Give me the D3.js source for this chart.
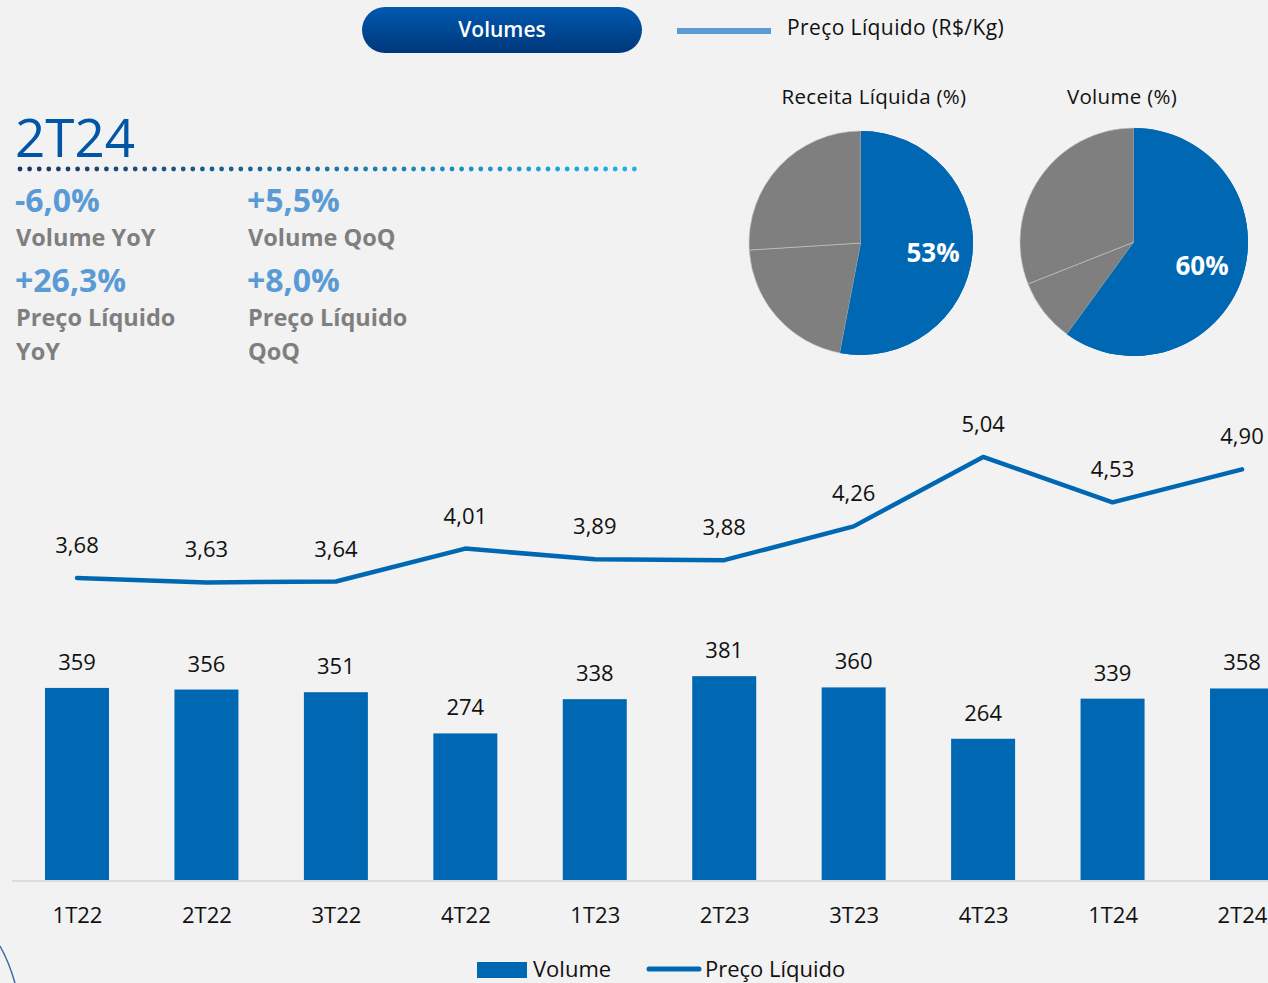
<!DOCTYPE html>
<html>
<head>
<meta charset="utf-8">
<script src="https://cdn.jsdelivr.net/npm/d3@7"></script>
<style>
  html, body { margin: 0; padding: 0; background: #f2f2f2; }
  svg { display: block; font-family: "Open Sans", "Noto Sans", sans-serif; }
</style>
</head>
<body>
<div id="chart"></div>
<script>
// quarterly data
const quarters = ['1T22', '2T22', '3T22', '4T22', '1T23', '2T23', '3T23', '4T23', '1T24', '2T24'];
const volumes = [359, 356, 351, 274, 338, 381, 360, 264, 339, 358];
const netPrices = [3.68, 3.63, 3.64, 4.01, 3.89, 3.88, 4.26, 5.04, 4.53, 4.90];

// pie shares (first slice = highlighted)
const revenueShare = [53, 21, 26];
const volumeShare = [60, 9, 31];

// 2T24 highlights
const highlights = [
  { value: '-6,0%', label: ['Volume YoY'] },
  { value: '+5,5%', label: ['Volume QoQ'] },
  { value: '+26,3%', label: ['Preço Líquido', 'YoY'] },
  { value: '+8,0%', label: ['Preço Líquido', 'QoQ'] }
];

const W = 1268, H = 983;
const BLUE = '#0068b3';
const GREY = '#7f7f7f';

const svg = d3.select('#chart').append('svg')
  .attr('width', W)
  .attr('height', H);

svg.append('rect').attr('width', W).attr('height', H).attr('fill', '#f2f2f2');

const defs = svg.append('defs');
const pillGrad = defs.append('linearGradient')
  .attr('id', 'pill-grad').attr('x1', 0).attr('y1', 0).attr('x2', 0).attr('y2', 1);
pillGrad.append('stop').attr('offset', '0%').attr('stop-color', '#0058b0');
pillGrad.append('stop').attr('offset', '100%').attr('stop-color', '#00387a');

/* ---------- header ---------- */
svg.append('rect')
  .attr('x', 362).attr('y', 7).attr('width', 280).attr('height', 46)
  .attr('rx', 23).attr('fill', 'url(#pill-grad)');
svg.append('text')
  .attr('x', 502).attr('y', 37)
  .attr('text-anchor', 'middle')
  .attr('fill', '#fff').attr('font-size', '21px').attr('font-weight', 600)
  .text('Volumes');

svg.append('line')
  .attr('x1', 677).attr('x2', 771).attr('y1', 31).attr('y2', 31)
  .attr('stroke', '#5b9bd5').attr('stroke-width', 6);
svg.append('text')
  .attr('x', 787).attr('y', 35)
  .attr('fill', '#111').attr('font-size', '21px').attr('letter-spacing', '0.4px')
  .text('Preço Líquido (R$/Kg)');

/* ---------- 2T24 block ---------- */
svg.append('text')
  .attr('x', 15).attr('y', 157)
  .attr('fill', '#0055a5').attr('font-size', '53px').attr('font-weight', 500)
  .text('2T24');

const dotX = d3.range(20, 636, 9.6);
const dotColor = d3.scaleLinear().domain([20, 635]).range(['#1c3562', '#1ab4e8']);
svg.append('g').selectAll('circle')
  .data(dotX)
  .enter()
  .append('circle')
  .attr('cx', d => d).attr('cy', 169).attr('r', 2.4)
  .attr('fill', d => dotColor(d));

const hlG = svg.append('g');
highlights.forEach((h, i) => {
  const x = i % 2 === 0 ? 15 : 247;
  const y = i < 2 ? 212 : 292;
  hlG.append('text')
    .attr('x', x).attr('y', y)
    .attr('fill', '#5b9bd5').attr('font-size', '32px').attr('font-weight', 700)
    .text(h.value);
  h.label.forEach((l, j) => {
    hlG.append('text')
      .attr('x', x + 1).attr('y', y + 34 + j * 34)
      .attr('fill', GREY).attr('font-size', '23.5px').attr('font-weight', 700)
      .text(l);
  });
});

/* ---------- pies ---------- */
function drawPie(cx, cy, r, values, title, titleX, labelPos) {
  const g = svg.append('g').attr('transform', `translate(${cx}, ${cy})`);
  const pie = d3.pie().sort(null).value(d => d);
  const arc = d3.arc().innerRadius(0).outerRadius(r);
  const arcs = pie(values);

  g.selectAll('path')
    .data(arcs)
    .enter()
    .append('path')
    .attr('d', arc)
    .attr('fill', (d, i) => (i === 0 ? BLUE : GREY))
    .attr('stroke', (d, i) => (i === 0 ? 'none' : '#c8c8c8'))
    .attr('stroke-width', 0.6);
  // redraw blue on top so its edges stay clean
  g.append('path').attr('d', arc(arcs[0])).attr('fill', BLUE);

  g.append('text')
    .attr('x', labelPos[0]).attr('y', labelPos[1])
    .attr('text-anchor', 'middle')
    .attr('fill', '#fff').attr('font-size', '26px').attr('font-weight', 700)
    .text(values[0] + '%');

  svg.append('text')
    .attr('x', titleX).attr('y', 104)
    .attr('text-anchor', 'middle')
    .attr('fill', '#111').attr('font-size', '20.5px').attr('letter-spacing', '0.3px')
    .text(title);
}

drawPie(861, 243, 112, revenueShare, 'Receita Líquida (%)', 874, [72, 19]);
drawPie(1134, 242, 114, volumeShare, 'Volume (%)', 1122, [68, 33]);

/* ---------- combo chart ---------- */
const x = d3.scalePoint().domain(quarters).range([77, 1242]);
const barW = 64;
const yBar = d3.scaleLinear().domain([0, 400]).range([880, 666]);
const yLine = d3.scaleLinear().domain([3, 5.5]).range([638.5, 416]);

const bars = svg.append('g');
bars.selectAll('rect')
  .data(quarters)
  .enter()
  .append('rect')
  .attr('x', d => x(d) - barW / 2)
  .attr('y', (d, i) => yBar(volumes[i]))
  .attr('width', barW)
  .attr('height', (d, i) => yBar(0) - yBar(volumes[i]))
  .attr('fill', BLUE);

bars.selectAll('text')
  .data(quarters)
  .enter()
  .append('text')
  .attr('x', d => x(d))
  .attr('y', (d, i) => yBar(volumes[i]) - 18)
  .attr('text-anchor', 'middle')
  .attr('fill', '#111').attr('font-size', '22px')
  .text((d, i) => volumes[i]);

// x axis
const xAxis = svg.append('g')
  .attr('transform', 'translate(0, 880)')
  .call(d3.axisBottom(x).tickSize(0).tickPadding(27));
xAxis.select('.domain').remove();
xAxis.selectAll('text')
  .attr('fill', '#111').attr('font-size', '22px')
  .attr('font-family', '"Open Sans", "Noto Sans", sans-serif');
svg.append('line')
  .attr('x1', 12).attr('x2', W).attr('y1', 881).attr('y2', 881)
  .attr('stroke', '#d6d6d6').attr('stroke-width', 1.5);

// price line
const line = d3.line()
  .x((d, i) => x(quarters[i]))
  .y(d => yLine(d));
svg.append('path')
  .datum(netPrices)
  .attr('d', line)
  .attr('fill', 'none')
  .attr('stroke', BLUE)
  .attr('stroke-width', 4.5)
  .attr('stroke-linejoin', 'round')
  .attr('stroke-linecap', 'round');

svg.append('g').selectAll('text')
  .data(netPrices)
  .enter()
  .append('text')
  .attr('x', (d, i) => x(quarters[i]))
  .attr('y', d => yLine(d) - 25)
  .attr('text-anchor', 'middle')
  .attr('fill', '#111').attr('font-size', '22px')
  .text(d => d.toFixed(2).replace('.', ','));

/* ---------- bottom legend ---------- */
const lg = svg.append('g');
lg.append('rect').attr('x', 477).attr('y', 962).attr('width', 50).attr('height', 16).attr('fill', BLUE);
lg.append('text').attr('x', 533).attr('y', 977).attr('fill', '#111').attr('font-size', '22px').text('Volume');
lg.append('line').attr('x1', 649).attr('x2', 699).attr('y1', 969).attr('y2', 969)
  .attr('stroke', BLUE).attr('stroke-width', 5).attr('stroke-linecap', 'round');
lg.append('text').attr('x', 705).attr('y', 977).attr('fill', '#111').attr('font-size', '22px').text('Preço Líquido');

// decorative corner curve
svg.append('path')
  .attr('d', 'M0,946 Q9,962 15,983')
  .attr('fill', 'none').attr('stroke', '#3d6aa6').attr('stroke-width', 1.5);
</script>
</body>
</html>
